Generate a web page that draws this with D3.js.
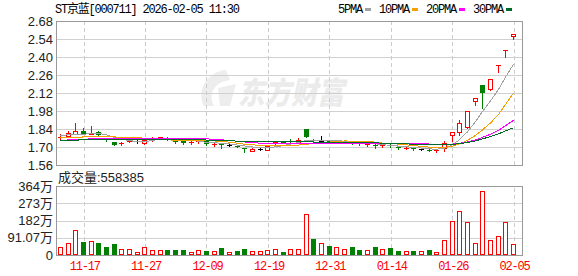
<!DOCTYPE html>
<html>
<head>
<meta charset="utf-8">
<script src="https://cdn.jsdelivr.net/npm/d3@7"></script>
<style>
body { margin: 0; background: #fff; }
svg { display: block; }
text { font-family: "Liberation Sans", "Noto Sans CJK SC", sans-serif; }
.mono { font-family: "Liberation Mono", "Noto Sans CJK SC", monospace; font-size: 12px; letter-spacing: -1.2px; }
</style>
</head>
<body>
<div id="chart"></div>
<script>
// trading days shown
var dates = ['11-12','11-13','11-14','11-17','11-18','11-19','11-20','11-21','11-24','11-25',
  '11-26','11-27','11-28','12-01','12-02','12-03','12-04','12-05','12-08','12-09',
  '12-10','12-11','12-12','12-15','12-16','12-17','12-18','12-19','12-22','12-23',
  '12-24','12-25','12-26','12-29','12-30','12-31','01-05','01-06','01-07','01-08',
  '01-09','01-12','01-13','01-14','01-15','01-16','01-19','01-20','01-21','01-22',
  '01-23','01-26','01-27','01-28','01-29','01-30','02-02','02-03','02-04','02-05'];

var openP = [1.770,1.786,1.800,1.825,1.800,1.815,1.765,1.740,1.720,1.745,
  1.750,1.735,1.755,1.765,1.760,1.745,1.745,1.735,1.740,1.745,
  1.715,1.730,1.715,1.710,1.690,1.672,1.685,1.680,1.730,1.745,
  1.745,1.735,1.840,1.755,1.745,1.745,1.735,1.742,1.740,1.730,
  1.715,1.715,1.705,1.715,1.700,1.690,1.695,1.685,1.680,1.672,
  1.690,1.795,1.820,1.853,2.058,2.183,2.149,2.337,2.454,2.563];
var highP = [1.800,1.825,1.890,1.850,1.860,1.822,1.770,1.742,1.740,1.755,
  1.755,1.770,1.775,1.780,1.775,1.750,1.750,1.745,1.750,1.750,
  1.730,1.735,1.720,1.715,1.695,1.690,1.690,1.715,1.745,1.750,
  1.765,1.770,1.840,1.760,1.785,1.750,1.750,1.750,1.745,1.735,
  1.725,1.720,1.715,1.720,1.705,1.700,1.700,1.690,1.685,1.685,
  1.750,1.817,1.908,1.980,2.079,2.183,2.226,2.337,2.454,2.577];
var lowP = [1.765,1.785,1.800,1.800,1.798,1.790,1.750,1.713,1.718,1.740,
  1.735,1.725,1.750,1.760,1.755,1.735,1.725,1.725,1.735,1.715,
  1.710,1.690,1.710,1.700,1.663,1.670,1.675,1.675,1.725,1.730,
  1.730,1.730,1.775,1.735,1.740,1.730,1.730,1.738,1.725,1.715,
  1.710,1.695,1.700,1.700,1.685,1.685,1.680,1.680,1.668,1.665,
  1.672,1.750,1.793,1.845,2.027,2.000,2.140,2.286,2.402,2.538];
var closeP = [1.780,1.810,1.822,1.800,1.805,1.795,1.755,1.715,1.735,1.750,
  1.750,1.755,1.770,1.775,1.765,1.740,1.735,1.740,1.745,1.720,
  1.725,1.715,1.715,1.700,1.685,1.685,1.685,1.710,1.740,1.735,
  1.740,1.755,1.780,1.745,1.745,1.740,1.745,1.745,1.730,1.720,
  1.720,1.710,1.712,1.705,1.690,1.695,1.685,1.685,1.672,1.680,
  1.730,1.817,1.884,1.980,2.079,2.120,2.226,2.337,2.454,2.577];

// volume in 万
var volume = [40,62,130,70,74,65,42,58,30,30,
  16,40,26,26,26,26,26,16,26,21,
  21,37,14,21,32,19,19,25,30,16,
  30,30,216,84,63,47,40,30,42,26,
  26,42,30,37,21,21,21,21,26,14,
  77,178,230,172,62,336,77,99,172,55.8385];

var ma5 = [1.790,1.795,1.800,1.800,1.803,1.806,1.795,1.774,1.761,1.750,
  1.741,1.741,1.752,1.760,1.763,1.761,1.757,1.751,1.745,1.736,
  1.733,1.729,1.724,1.715,1.708,1.700,1.694,1.693,1.701,1.711,
  1.722,1.736,1.750,1.751,1.753,1.753,1.751,1.744,1.741,1.736,
  1.732,1.725,1.718,1.713,1.707,1.702,1.697,1.692,1.685,1.683,
  1.690,1.717,1.757,1.818,1.898,1.976,2.058,2.148,2.243,2.343];
var ma10 = [1.772,1.774,1.776,1.778,1.779,1.780,1.779,1.778,1.777,1.777,
  1.774,1.768,1.763,1.761,1.757,1.751,1.749,1.752,1.753,1.750,
  1.747,1.743,1.738,1.730,1.722,1.717,1.712,1.709,1.708,1.710,
  1.711,1.715,1.722,1.726,1.732,1.738,1.744,1.747,1.746,1.745,
  1.743,1.738,1.731,1.727,1.722,1.717,1.711,1.705,1.699,1.695,
  1.696,1.707,1.724,1.752,1.791,1.833,1.887,1.953,2.031,2.120];
var ma20 = [1.752,1.755,1.758,1.761,1.763,1.765,1.765,1.765,1.765,1.765,
  1.765,1.765,1.765,1.765,1.765,1.765,1.765,1.764,1.764,1.763,
  1.760,1.756,1.750,1.745,1.739,1.734,1.730,1.730,1.730,1.730,
  1.729,1.729,1.730,1.728,1.727,1.727,1.728,1.728,1.727,1.727,
  1.727,1.727,1.726,1.727,1.727,1.727,1.727,1.726,1.723,1.720,
  1.719,1.723,1.728,1.740,1.756,1.775,1.799,1.829,1.865,1.908];
var ma30 = [1.752,1.753,1.754,1.755,1.756,1.757,1.758,1.759,1.760,1.760,
  1.760,1.760,1.760,1.760,1.760,1.760,1.760,1.759,1.757,1.754,
  1.752,1.750,1.748,1.746,1.745,1.745,1.745,1.745,1.745,1.745,
  1.744,1.742,1.741,1.739,1.737,1.735,1.735,1.736,1.736,1.735,
  1.734,1.732,1.730,1.728,1.725,1.724,1.722,1.720,1.718,1.716,
  1.717,1.720,1.726,1.735,1.748,1.763,1.781,1.802,1.825,1.850];

var maNames = ['5PMA','10PMA','20PMA','30PMA'];
var priceTicks = [1.56,1.70,1.84,1.98,2.12,2.26,2.40,2.54,2.68];
var volTicks = [0,91.07,182.14,273.21,364.28];
var volTickLabels = ['0','91.07万','182万','273万','364万'];
var dateTicks = ['11-17','11-27','12-09','12-19','12-31','01-14','01-26','02-05'];
var title = 'ST京蓝[000711] 2026-02-05 11:30';
var volTitle = '成交量:558385';

// colours
var RED = '#ff0000', GREEN = '#008000', BLACK = '#000000';
var maColors = ['#a0a0a0','#f5a000','#ff00ff','#006a2a'];

var svgWidth = 578, svgHeight = 276;
var plotLeft = 56, plotRight = 522;
var priceTop = 21, priceBottom = 165;
var volTop = 186, volBottom = 255;

var svg = d3.select('#chart').append('svg')
  .attr('width', svgWidth)
  .attr('height', svgHeight)
  .style('shape-rendering', 'crispEdges');

var x = d3.scalePoint().domain(dates).range([60, 513]);
var y = d3.scaleLinear().domain([1.56, 2.68]).range([priceBottom, priceTop]);
var yv = d3.scaleLinear().domain([0, 364.28]).range([volBottom, volTop]);

// watermark
svg.append('path')
  .attr('d', 'M226,70 C206,72 196,92 204,106 L214,106 C208,94 214,82 230,80 Z M218,88 L236,84 L230,106 L220,106 Z')
  .attr('fill', '#ededed')
  .style('shape-rendering', 'auto');
svg.append('text')
  .attr('x', 238).attr('y', 104)
  .attr('font-size', 31)
  .attr('font-weight', 900)
  .attr('font-style', 'italic')
  .attr('textLength', 106)
  .attr('lengthAdjust', 'spacingAndGlyphs')
  .style('font-family', '"Noto Sans CJK SC", sans-serif')
  .attr('fill', '#ebebeb')
  .text('东方财富');

// horizontal grid
function hGrid(scale, ticks) {
  var g = svg.append('g')
    .attr('transform', `translate(${plotLeft},0)`)
    .call(d3.axisLeft(scale).tickValues(ticks).tickSize(-(plotRight - plotLeft)).tickFormat(''));
  g.select('.domain').remove();
  g.selectAll('line').attr('stroke', '#d0d0d0');
}
hGrid(y, priceTicks.slice(1, -1));
hGrid(yv, volTicks.slice(1, -1));

// vertical dashed grid
function vGrid(top, bottom) {
  var g = svg.append('g')
    .attr('transform', `translate(0.5,${bottom})`)
    .call(d3.axisBottom(x).tickValues(dateTicks).tickSize(-(bottom - top)).tickFormat(''));
  g.select('.domain').remove();
  g.selectAll('line').attr('stroke', '#cccccc').attr('stroke-dasharray', '4,3');
}
vGrid(priceTop, priceBottom);
vGrid(volTop, volBottom);

// y labels
function yLabels(scale, ticks, fmt) {
  var g = svg.append('g')
    .attr('transform', `translate(${plotLeft},0)`)
    .call(d3.axisLeft(scale).tickValues(ticks).tickSize(0).tickPadding(3).tickFormat(fmt));
  g.select('.domain').remove();
  g.selectAll('text')
    .attr('font-size', 13)
    .attr('fill', '#222')
    .style('font-family', '"Liberation Sans", "Noto Sans CJK SC", sans-serif');
}
yLabels(y, priceTicks, d3.format('.2f'));
yLabels(yv, volTicks, (d, i) => volTickLabels[i]);

// date labels
var xg = svg.append('g')
  .attr('transform', `translate(0.5,${volBottom})`)
  .call(d3.axisBottom(x).tickValues(dateTicks).tickSize(0).tickPadding(6));
xg.select('.domain').remove();
xg.selectAll('text')
  .attr('class', 'mono')
  .attr('fill', RED)
  .attr('dx', 0.6);

// candle data
var candles = dates.map((d, i) => {
  var prev = i > 0 ? closeP[i - 1] : openP[i];
  var col;
  if (closeP[i] > openP[i]) col = RED;
  else if (closeP[i] < openP[i]) col = GREEN;
  else col = closeP[i] > prev ? RED : (closeP[i] < prev ? GREEN : BLACK);
  return {
    date: d, o: openP[i], h: highP[i], l: lowP[i], c: closeP[i], v: volume[i],
    col: col, volCol: closeP[i] >= prev ? RED : GREEN
  };
});

var cg = svg.append('g');
candles.forEach(d => {
  var cx = Math.round(x(d.date));
  var top = Math.round(y(Math.max(d.o, d.c)));
  var bot = Math.round(y(Math.min(d.o, d.c)));
  cg.append('line')
    .attr('x1', cx + 0.5).attr('x2', cx + 0.5)
    .attr('y1', Math.round(y(d.h))).attr('y2', Math.round(y(d.l)) + 1)
    .attr('stroke', d.col);
  if (d.c > d.o && bot - top >= 2) {
    cg.append('rect')
      .attr('x', cx - 1.5).attr('y', top + 0.5)
      .attr('width', 4).attr('height', bot - top)
      .attr('fill', '#fff').attr('stroke', d.col);
  } else {
    cg.append('rect')
      .attr('x', cx - 2).attr('y', top)
      .attr('width', 5).attr('height', Math.max(1, bot - top))
      .attr('fill', d.col);
  }
});

// volume bars
var vg = svg.append('g');
candles.forEach(d => {
  var cx = Math.round(x(d.date));
  var top = Math.round(yv(d.v));
  if (d.volCol === RED) {
    vg.append('rect')
      .attr('x', cx - 1.5).attr('y', top + 0.5)
      .attr('width', 4).attr('height', volBottom - top - 1)
      .attr('fill', '#fff').attr('stroke', RED);
  } else {
    vg.append('rect')
      .attr('x', cx - 2).attr('y', top)
      .attr('width', 5).attr('height', volBottom - top)
      .attr('fill', GREEN);
  }
});

// moving averages
var line = d3.line()
  .x((d, i) => Math.round(x(dates[i])) + 0.5)
  .y(d => y(d));
[ma5, ma10, ma20, ma30].forEach((m, k) => {
  svg.append('path')
    .datum(m)
    .attr('d', line)
    .attr('fill', 'none')
    .attr('stroke', maColors[k])
    .attr('stroke-width', 1);
});

// panel borders
[[priceTop, priceBottom], [volTop, volBottom]].forEach(p => {
  svg.append('rect')
    .attr('x', plotLeft + 0.5).attr('y', p[0] + 0.5)
    .attr('width', plotRight - plotLeft).attr('height', p[1] - p[0])
    .attr('fill', 'none')
    .attr('stroke', '#999');
});

// title and legend
svg.append('text')
  .attr('class', 'mono')
  .attr('x', 55).attr('y', 13)
  .attr('fill', '#000')
  .text(title);

var lx = 338;
maNames.forEach((n, k) => {
  svg.append('text')
    .attr('class', 'mono')
    .attr('x', lx).attr('y', 13)
    .attr('fill', '#000')
    .text(n);
  lx += n.length * 6 + 3;
  svg.append('rect')
    .attr('x', lx).attr('y', 8)
    .attr('width', 6).attr('height', 3)
    .attr('fill', maColors[k]);
  lx += 6 + 8;
});

svg.append('text')
  .attr('x', 58).attr('y', 182)
  .attr('font-size', 13)
  .attr('fill', '#222')
  .text(volTitle);
</script>
</body>
</html>
